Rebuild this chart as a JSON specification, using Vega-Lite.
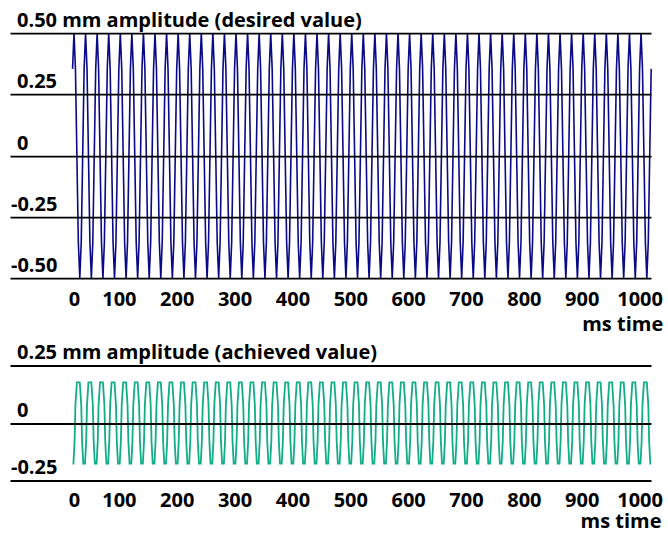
{
"$schema": "https://vega.github.io/schema/vega-lite/v6.json",
"padding": {"left": 10, "top": 10.1, "right": 0, "bottom": 0},
"bounds": "flush",
"spacing": 87.4,
"config": {"view": {"stroke": null}, "font": "Open Sans",
 "axis": {"labelFont": "Open Sans", "labelFontSize": 20, "labelFontWeight": "bold", "labelColor": "black", "labelLimit": 0, "titleFont": "Open Sans", "titleFontSize": 20, "titleFontWeight": "bold", "titleColor": "black", "domain": false, "ticks": false, "labelOverlap": false, "labelBound": false, "labelFlush": false}},
"datasets": {
"desired": [
{"t":20,"v":0.354},{"t":22.5,"v":0.5},{"t":25,"v":0.354},{"t":30,"v":-0.354},{"t":32.5,"v":-0.5},{"t":35,"v":-0.354},
{"t":40,"v":0.354},{"t":42.5,"v":0.5},{"t":45,"v":0.354},{"t":50,"v":-0.354},{"t":52.5,"v":-0.5},{"t":55,"v":-0.354},
{"t":60,"v":0.354},{"t":62.5,"v":0.5},{"t":65,"v":0.354},{"t":70,"v":-0.354},{"t":72.5,"v":-0.5},{"t":75,"v":-0.354},
{"t":80,"v":0.354},{"t":82.5,"v":0.5},{"t":85,"v":0.354},{"t":90,"v":-0.354},{"t":92.5,"v":-0.5},{"t":95,"v":-0.354},
{"t":100,"v":0.354},{"t":102.5,"v":0.5},{"t":105,"v":0.354},{"t":110,"v":-0.354},{"t":112.5,"v":-0.5},{"t":115,"v":-0.354},
{"t":120,"v":0.354},{"t":122.5,"v":0.5},{"t":125,"v":0.354},{"t":130,"v":-0.354},{"t":132.5,"v":-0.5},{"t":135,"v":-0.354},
{"t":140,"v":0.354},{"t":142.5,"v":0.5},{"t":145,"v":0.354},{"t":150,"v":-0.354},{"t":152.5,"v":-0.5},{"t":155,"v":-0.354},
{"t":160,"v":0.354},{"t":162.5,"v":0.5},{"t":165,"v":0.354},{"t":170,"v":-0.354},{"t":172.5,"v":-0.5},{"t":175,"v":-0.354},
{"t":180,"v":0.354},{"t":182.5,"v":0.5},{"t":185,"v":0.354},{"t":190,"v":-0.354},{"t":192.5,"v":-0.5},{"t":195,"v":-0.354},
{"t":200,"v":0.354},{"t":202.5,"v":0.5},{"t":205,"v":0.354},{"t":210,"v":-0.354},{"t":212.5,"v":-0.5},{"t":215,"v":-0.354},
{"t":220,"v":0.354},{"t":222.5,"v":0.5},{"t":225,"v":0.354},{"t":230,"v":-0.354},{"t":232.5,"v":-0.5},{"t":235,"v":-0.354},
{"t":240,"v":0.354},{"t":242.5,"v":0.5},{"t":245,"v":0.354},{"t":250,"v":-0.354},{"t":252.5,"v":-0.5},{"t":255,"v":-0.354},
{"t":260,"v":0.354},{"t":262.5,"v":0.5},{"t":265,"v":0.354},{"t":270,"v":-0.354},{"t":272.5,"v":-0.5},{"t":275,"v":-0.354},
{"t":280,"v":0.354},{"t":282.5,"v":0.5},{"t":285,"v":0.354},{"t":290,"v":-0.354},{"t":292.5,"v":-0.5},{"t":295,"v":-0.354},
{"t":300,"v":0.354},{"t":302.5,"v":0.5},{"t":305,"v":0.354},{"t":310,"v":-0.354},{"t":312.5,"v":-0.5},{"t":315,"v":-0.354},
{"t":320,"v":0.354},{"t":322.5,"v":0.5},{"t":325,"v":0.354},{"t":330,"v":-0.354},{"t":332.5,"v":-0.5},{"t":335,"v":-0.354},
{"t":340,"v":0.354},{"t":342.5,"v":0.5},{"t":345,"v":0.354},{"t":350,"v":-0.354},{"t":352.5,"v":-0.5},{"t":355,"v":-0.354},
{"t":360,"v":0.354},{"t":362.5,"v":0.5},{"t":365,"v":0.354},{"t":370,"v":-0.354},{"t":372.5,"v":-0.5},{"t":375,"v":-0.354},
{"t":380,"v":0.354},{"t":382.5,"v":0.5},{"t":385,"v":0.354},{"t":390,"v":-0.354},{"t":392.5,"v":-0.5},{"t":395,"v":-0.354},
{"t":400,"v":0.354},{"t":402.5,"v":0.5},{"t":405,"v":0.354},{"t":410,"v":-0.354},{"t":412.5,"v":-0.5},{"t":415,"v":-0.354},
{"t":420,"v":0.354},{"t":422.5,"v":0.5},{"t":425,"v":0.354},{"t":430,"v":-0.354},{"t":432.5,"v":-0.5},{"t":435,"v":-0.354},
{"t":440,"v":0.354},{"t":442.5,"v":0.5},{"t":445,"v":0.354},{"t":450,"v":-0.354},{"t":452.5,"v":-0.5},{"t":455,"v":-0.354},
{"t":460,"v":0.354},{"t":462.5,"v":0.5},{"t":465,"v":0.354},{"t":470,"v":-0.354},{"t":472.5,"v":-0.5},{"t":475,"v":-0.354},
{"t":480,"v":0.354},{"t":482.5,"v":0.5},{"t":485,"v":0.354},{"t":490,"v":-0.354},{"t":492.5,"v":-0.5},{"t":495,"v":-0.354},
{"t":500,"v":0.354},{"t":502.5,"v":0.5},{"t":505,"v":0.354},{"t":510,"v":-0.354},{"t":512.5,"v":-0.5},{"t":515,"v":-0.354},
{"t":520,"v":0.354},{"t":522.5,"v":0.5},{"t":525,"v":0.354},{"t":530,"v":-0.354},{"t":532.5,"v":-0.5},{"t":535,"v":-0.354},
{"t":540,"v":0.354},{"t":542.5,"v":0.5},{"t":545,"v":0.354},{"t":550,"v":-0.354},{"t":552.5,"v":-0.5},{"t":555,"v":-0.354},
{"t":560,"v":0.354},{"t":562.5,"v":0.5},{"t":565,"v":0.354},{"t":570,"v":-0.354},{"t":572.5,"v":-0.5},{"t":575,"v":-0.354},
{"t":580,"v":0.354},{"t":582.5,"v":0.5},{"t":585,"v":0.354},{"t":590,"v":-0.354},{"t":592.5,"v":-0.5},{"t":595,"v":-0.354},
{"t":600,"v":0.354},{"t":602.5,"v":0.5},{"t":605,"v":0.354},{"t":610,"v":-0.354},{"t":612.5,"v":-0.5},{"t":615,"v":-0.354},
{"t":620,"v":0.354},{"t":622.5,"v":0.5},{"t":625,"v":0.354},{"t":630,"v":-0.354},{"t":632.5,"v":-0.5},{"t":635,"v":-0.354},
{"t":640,"v":0.354},{"t":642.5,"v":0.5},{"t":645,"v":0.354},{"t":650,"v":-0.354},{"t":652.5,"v":-0.5},{"t":655,"v":-0.354},
{"t":660,"v":0.354},{"t":662.5,"v":0.5},{"t":665,"v":0.354},{"t":670,"v":-0.354},{"t":672.5,"v":-0.5},{"t":675,"v":-0.354},
{"t":680,"v":0.354},{"t":682.5,"v":0.5},{"t":685,"v":0.354},{"t":690,"v":-0.354},{"t":692.5,"v":-0.5},{"t":695,"v":-0.354},
{"t":700,"v":0.354},{"t":702.5,"v":0.5},{"t":705,"v":0.354},{"t":710,"v":-0.354},{"t":712.5,"v":-0.5},{"t":715,"v":-0.354},
{"t":720,"v":0.354},{"t":722.5,"v":0.5},{"t":725,"v":0.354},{"t":730,"v":-0.354},{"t":732.5,"v":-0.5},{"t":735,"v":-0.354},
{"t":740,"v":0.354},{"t":742.5,"v":0.5},{"t":745,"v":0.354},{"t":750,"v":-0.354},{"t":752.5,"v":-0.5},{"t":755,"v":-0.354},
{"t":760,"v":0.354},{"t":762.5,"v":0.5},{"t":765,"v":0.354},{"t":770,"v":-0.354},{"t":772.5,"v":-0.5},{"t":775,"v":-0.354},
{"t":780,"v":0.354},{"t":782.5,"v":0.5},{"t":785,"v":0.354},{"t":790,"v":-0.354},{"t":792.5,"v":-0.5},{"t":795,"v":-0.354},
{"t":800,"v":0.354},{"t":802.5,"v":0.5},{"t":805,"v":0.354},{"t":810,"v":-0.354},{"t":812.5,"v":-0.5},{"t":815,"v":-0.354},
{"t":820,"v":0.354},{"t":822.5,"v":0.5},{"t":825,"v":0.354},{"t":830,"v":-0.354},{"t":832.5,"v":-0.5},{"t":835,"v":-0.354},
{"t":840,"v":0.354},{"t":842.5,"v":0.5},{"t":845,"v":0.354},{"t":850,"v":-0.354},{"t":852.5,"v":-0.5},{"t":855,"v":-0.354},
{"t":860,"v":0.354},{"t":862.5,"v":0.5},{"t":865,"v":0.354},{"t":870,"v":-0.354},{"t":872.5,"v":-0.5},{"t":875,"v":-0.354},
{"t":880,"v":0.354},{"t":882.5,"v":0.5},{"t":885,"v":0.354},{"t":890,"v":-0.354},{"t":892.5,"v":-0.5},{"t":895,"v":-0.354},
{"t":900,"v":0.354},{"t":902.5,"v":0.5},{"t":905,"v":0.354},{"t":910,"v":-0.354},{"t":912.5,"v":-0.5},{"t":915,"v":-0.354},
{"t":920,"v":0.354},{"t":922.5,"v":0.5},{"t":925,"v":0.354},{"t":930,"v":-0.354},{"t":932.5,"v":-0.5},{"t":935,"v":-0.354},
{"t":940,"v":0.354},{"t":942.5,"v":0.5},{"t":945,"v":0.354},{"t":950,"v":-0.354},{"t":952.5,"v":-0.5},{"t":955,"v":-0.354},
{"t":960,"v":0.354},{"t":962.5,"v":0.5},{"t":965,"v":0.354},{"t":970,"v":-0.354},{"t":972.5,"v":-0.5},{"t":975,"v":-0.354},
{"t":980,"v":0.354},{"t":982.5,"v":0.5},{"t":985,"v":0.354},{"t":990,"v":-0.354},{"t":992.5,"v":-0.5},{"t":995,"v":-0.354},
{"t":1000,"v":0.354},{"t":1002.5,"v":0.5},{"t":1005,"v":0.354},{"t":1010,"v":-0.354},{"t":1012.5,"v":-0.5},{"t":1015,"v":-0.354},
{"t":1020,"v":0.354}
],
"achieved": [
{"t":20,"v":-0.177},
{"t":21.5,"v":-0.177},{"t":23.5,"v":-0.08},{"t":25,"v":0.08},{"t":27.5,"v":0.177},{"t":32.5,"v":0.177},{"t":35,"v":0.08},{"t":36.5,"v":-0.08},{"t":38.5,"v":-0.177},
{"t":41.5,"v":-0.177},{"t":43.5,"v":-0.08},{"t":45,"v":0.08},{"t":47.5,"v":0.177},{"t":52.5,"v":0.177},{"t":55,"v":0.08},{"t":56.5,"v":-0.08},{"t":58.5,"v":-0.177},
{"t":61.5,"v":-0.177},{"t":63.5,"v":-0.08},{"t":65,"v":0.08},{"t":67.5,"v":0.177},{"t":72.5,"v":0.177},{"t":75,"v":0.08},{"t":76.5,"v":-0.08},{"t":78.5,"v":-0.177},
{"t":81.5,"v":-0.177},{"t":83.5,"v":-0.08},{"t":85,"v":0.08},{"t":87.5,"v":0.177},{"t":92.5,"v":0.177},{"t":95,"v":0.08},{"t":96.5,"v":-0.08},{"t":98.5,"v":-0.177},
{"t":101.5,"v":-0.177},{"t":103.5,"v":-0.08},{"t":105,"v":0.08},{"t":107.5,"v":0.177},{"t":112.5,"v":0.177},{"t":115,"v":0.08},{"t":116.5,"v":-0.08},{"t":118.5,"v":-0.177},
{"t":121.5,"v":-0.177},{"t":123.5,"v":-0.08},{"t":125,"v":0.08},{"t":127.5,"v":0.177},{"t":132.5,"v":0.177},{"t":135,"v":0.08},{"t":136.5,"v":-0.08},{"t":138.5,"v":-0.177},
{"t":141.5,"v":-0.177},{"t":143.5,"v":-0.08},{"t":145,"v":0.08},{"t":147.5,"v":0.177},{"t":152.5,"v":0.177},{"t":155,"v":0.08},{"t":156.5,"v":-0.08},{"t":158.5,"v":-0.177},
{"t":161.5,"v":-0.177},{"t":163.5,"v":-0.08},{"t":165,"v":0.08},{"t":167.5,"v":0.177},{"t":172.5,"v":0.177},{"t":175,"v":0.08},{"t":176.5,"v":-0.08},{"t":178.5,"v":-0.177},
{"t":181.5,"v":-0.177},{"t":183.5,"v":-0.08},{"t":185,"v":0.08},{"t":187.5,"v":0.177},{"t":192.5,"v":0.177},{"t":195,"v":0.08},{"t":196.5,"v":-0.08},{"t":198.5,"v":-0.177},
{"t":201.5,"v":-0.177},{"t":203.5,"v":-0.08},{"t":205,"v":0.08},{"t":207.5,"v":0.177},{"t":212.5,"v":0.177},{"t":215,"v":0.08},{"t":216.5,"v":-0.08},{"t":218.5,"v":-0.177},
{"t":221.5,"v":-0.177},{"t":223.5,"v":-0.08},{"t":225,"v":0.08},{"t":227.5,"v":0.177},{"t":232.5,"v":0.177},{"t":235,"v":0.08},{"t":236.5,"v":-0.08},{"t":238.5,"v":-0.177},
{"t":241.5,"v":-0.177},{"t":243.5,"v":-0.08},{"t":245,"v":0.08},{"t":247.5,"v":0.177},{"t":252.5,"v":0.177},{"t":255,"v":0.08},{"t":256.5,"v":-0.08},{"t":258.5,"v":-0.177},
{"t":261.5,"v":-0.177},{"t":263.5,"v":-0.08},{"t":265,"v":0.08},{"t":267.5,"v":0.177},{"t":272.5,"v":0.177},{"t":275,"v":0.08},{"t":276.5,"v":-0.08},{"t":278.5,"v":-0.177},
{"t":281.5,"v":-0.177},{"t":283.5,"v":-0.08},{"t":285,"v":0.08},{"t":287.5,"v":0.177},{"t":292.5,"v":0.177},{"t":295,"v":0.08},{"t":296.5,"v":-0.08},{"t":298.5,"v":-0.177},
{"t":301.5,"v":-0.177},{"t":303.5,"v":-0.08},{"t":305,"v":0.08},{"t":307.5,"v":0.177},{"t":312.5,"v":0.177},{"t":315,"v":0.08},{"t":316.5,"v":-0.08},{"t":318.5,"v":-0.177},
{"t":321.5,"v":-0.177},{"t":323.5,"v":-0.08},{"t":325,"v":0.08},{"t":327.5,"v":0.177},{"t":332.5,"v":0.177},{"t":335,"v":0.08},{"t":336.5,"v":-0.08},{"t":338.5,"v":-0.177},
{"t":341.5,"v":-0.177},{"t":343.5,"v":-0.08},{"t":345,"v":0.08},{"t":347.5,"v":0.177},{"t":352.5,"v":0.177},{"t":355,"v":0.08},{"t":356.5,"v":-0.08},{"t":358.5,"v":-0.177},
{"t":361.5,"v":-0.177},{"t":363.5,"v":-0.08},{"t":365,"v":0.08},{"t":367.5,"v":0.177},{"t":372.5,"v":0.177},{"t":375,"v":0.08},{"t":376.5,"v":-0.08},{"t":378.5,"v":-0.177},
{"t":381.5,"v":-0.177},{"t":383.5,"v":-0.08},{"t":385,"v":0.08},{"t":387.5,"v":0.177},{"t":392.5,"v":0.177},{"t":395,"v":0.08},{"t":396.5,"v":-0.08},{"t":398.5,"v":-0.177},
{"t":401.5,"v":-0.177},{"t":403.5,"v":-0.08},{"t":405,"v":0.08},{"t":407.5,"v":0.177},{"t":412.5,"v":0.177},{"t":415,"v":0.08},{"t":416.5,"v":-0.08},{"t":418.5,"v":-0.177},
{"t":421.5,"v":-0.177},{"t":423.5,"v":-0.08},{"t":425,"v":0.08},{"t":427.5,"v":0.177},{"t":432.5,"v":0.177},{"t":435,"v":0.08},{"t":436.5,"v":-0.08},{"t":438.5,"v":-0.177},
{"t":441.5,"v":-0.177},{"t":443.5,"v":-0.08},{"t":445,"v":0.08},{"t":447.5,"v":0.177},{"t":452.5,"v":0.177},{"t":455,"v":0.08},{"t":456.5,"v":-0.08},{"t":458.5,"v":-0.177},
{"t":461.5,"v":-0.177},{"t":463.5,"v":-0.08},{"t":465,"v":0.08},{"t":467.5,"v":0.177},{"t":472.5,"v":0.177},{"t":475,"v":0.08},{"t":476.5,"v":-0.08},{"t":478.5,"v":-0.177},
{"t":481.5,"v":-0.177},{"t":483.5,"v":-0.08},{"t":485,"v":0.08},{"t":487.5,"v":0.177},{"t":492.5,"v":0.177},{"t":495,"v":0.08},{"t":496.5,"v":-0.08},{"t":498.5,"v":-0.177},
{"t":501.5,"v":-0.177},{"t":503.5,"v":-0.08},{"t":505,"v":0.08},{"t":507.5,"v":0.177},{"t":512.5,"v":0.177},{"t":515,"v":0.08},{"t":516.5,"v":-0.08},{"t":518.5,"v":-0.177},
{"t":521.5,"v":-0.177},{"t":523.5,"v":-0.08},{"t":525,"v":0.08},{"t":527.5,"v":0.177},{"t":532.5,"v":0.177},{"t":535,"v":0.08},{"t":536.5,"v":-0.08},{"t":538.5,"v":-0.177},
{"t":541.5,"v":-0.177},{"t":543.5,"v":-0.08},{"t":545,"v":0.08},{"t":547.5,"v":0.177},{"t":552.5,"v":0.177},{"t":555,"v":0.08},{"t":556.5,"v":-0.08},{"t":558.5,"v":-0.177},
{"t":561.5,"v":-0.177},{"t":563.5,"v":-0.08},{"t":565,"v":0.08},{"t":567.5,"v":0.177},{"t":572.5,"v":0.177},{"t":575,"v":0.08},{"t":576.5,"v":-0.08},{"t":578.5,"v":-0.177},
{"t":581.5,"v":-0.177},{"t":583.5,"v":-0.08},{"t":585,"v":0.08},{"t":587.5,"v":0.177},{"t":592.5,"v":0.177},{"t":595,"v":0.08},{"t":596.5,"v":-0.08},{"t":598.5,"v":-0.177},
{"t":601.5,"v":-0.177},{"t":603.5,"v":-0.08},{"t":605,"v":0.08},{"t":607.5,"v":0.177},{"t":612.5,"v":0.177},{"t":615,"v":0.08},{"t":616.5,"v":-0.08},{"t":618.5,"v":-0.177},
{"t":621.5,"v":-0.177},{"t":623.5,"v":-0.08},{"t":625,"v":0.08},{"t":627.5,"v":0.177},{"t":632.5,"v":0.177},{"t":635,"v":0.08},{"t":636.5,"v":-0.08},{"t":638.5,"v":-0.177},
{"t":641.5,"v":-0.177},{"t":643.5,"v":-0.08},{"t":645,"v":0.08},{"t":647.5,"v":0.177},{"t":652.5,"v":0.177},{"t":655,"v":0.08},{"t":656.5,"v":-0.08},{"t":658.5,"v":-0.177},
{"t":661.5,"v":-0.177},{"t":663.5,"v":-0.08},{"t":665,"v":0.08},{"t":667.5,"v":0.177},{"t":672.5,"v":0.177},{"t":675,"v":0.08},{"t":676.5,"v":-0.08},{"t":678.5,"v":-0.177},
{"t":681.5,"v":-0.177},{"t":683.5,"v":-0.08},{"t":685,"v":0.08},{"t":687.5,"v":0.177},{"t":692.5,"v":0.177},{"t":695,"v":0.08},{"t":696.5,"v":-0.08},{"t":698.5,"v":-0.177},
{"t":701.5,"v":-0.177},{"t":703.5,"v":-0.08},{"t":705,"v":0.08},{"t":707.5,"v":0.177},{"t":712.5,"v":0.177},{"t":715,"v":0.08},{"t":716.5,"v":-0.08},{"t":718.5,"v":-0.177},
{"t":721.5,"v":-0.177},{"t":723.5,"v":-0.08},{"t":725,"v":0.08},{"t":727.5,"v":0.177},{"t":732.5,"v":0.177},{"t":735,"v":0.08},{"t":736.5,"v":-0.08},{"t":738.5,"v":-0.177},
{"t":741.5,"v":-0.177},{"t":743.5,"v":-0.08},{"t":745,"v":0.08},{"t":747.5,"v":0.177},{"t":752.5,"v":0.177},{"t":755,"v":0.08},{"t":756.5,"v":-0.08},{"t":758.5,"v":-0.177},
{"t":761.5,"v":-0.177},{"t":763.5,"v":-0.08},{"t":765,"v":0.08},{"t":767.5,"v":0.177},{"t":772.5,"v":0.177},{"t":775,"v":0.08},{"t":776.5,"v":-0.08},{"t":778.5,"v":-0.177},
{"t":781.5,"v":-0.177},{"t":783.5,"v":-0.08},{"t":785,"v":0.08},{"t":787.5,"v":0.177},{"t":792.5,"v":0.177},{"t":795,"v":0.08},{"t":796.5,"v":-0.08},{"t":798.5,"v":-0.177},
{"t":801.5,"v":-0.177},{"t":803.5,"v":-0.08},{"t":805,"v":0.08},{"t":807.5,"v":0.177},{"t":812.5,"v":0.177},{"t":815,"v":0.08},{"t":816.5,"v":-0.08},{"t":818.5,"v":-0.177},
{"t":821.5,"v":-0.177},{"t":823.5,"v":-0.08},{"t":825,"v":0.08},{"t":827.5,"v":0.177},{"t":832.5,"v":0.177},{"t":835,"v":0.08},{"t":836.5,"v":-0.08},{"t":838.5,"v":-0.177},
{"t":841.5,"v":-0.177},{"t":843.5,"v":-0.08},{"t":845,"v":0.08},{"t":847.5,"v":0.177},{"t":852.5,"v":0.177},{"t":855,"v":0.08},{"t":856.5,"v":-0.08},{"t":858.5,"v":-0.177},
{"t":861.5,"v":-0.177},{"t":863.5,"v":-0.08},{"t":865,"v":0.08},{"t":867.5,"v":0.177},{"t":872.5,"v":0.177},{"t":875,"v":0.08},{"t":876.5,"v":-0.08},{"t":878.5,"v":-0.177},
{"t":881.5,"v":-0.177},{"t":883.5,"v":-0.08},{"t":885,"v":0.08},{"t":887.5,"v":0.177},{"t":892.5,"v":0.177},{"t":895,"v":0.08},{"t":896.5,"v":-0.08},{"t":898.5,"v":-0.177},
{"t":901.5,"v":-0.177},{"t":903.5,"v":-0.08},{"t":905,"v":0.08},{"t":907.5,"v":0.177},{"t":912.5,"v":0.177},{"t":915,"v":0.08},{"t":916.5,"v":-0.08},{"t":918.5,"v":-0.177},
{"t":921.5,"v":-0.177},{"t":923.5,"v":-0.08},{"t":925,"v":0.08},{"t":927.5,"v":0.177},{"t":932.5,"v":0.177},{"t":935,"v":0.08},{"t":936.5,"v":-0.08},{"t":938.5,"v":-0.177},
{"t":941.5,"v":-0.177},{"t":943.5,"v":-0.08},{"t":945,"v":0.08},{"t":947.5,"v":0.177},{"t":952.5,"v":0.177},{"t":955,"v":0.08},{"t":956.5,"v":-0.08},{"t":958.5,"v":-0.177},
{"t":961.5,"v":-0.177},{"t":963.5,"v":-0.08},{"t":965,"v":0.08},{"t":967.5,"v":0.177},{"t":972.5,"v":0.177},{"t":975,"v":0.08},{"t":976.5,"v":-0.08},{"t":978.5,"v":-0.177},
{"t":981.5,"v":-0.177},{"t":983.5,"v":-0.08},{"t":985,"v":0.08},{"t":987.5,"v":0.177},{"t":992.5,"v":0.177},{"t":995,"v":0.08},{"t":996.5,"v":-0.08},{"t":998.5,"v":-0.177},
{"t":1001.5,"v":-0.177},{"t":1003.5,"v":-0.08},{"t":1005,"v":0.08},{"t":1007.5,"v":0.177},{"t":1012.5,"v":0.177},{"t":1015,"v":0.08},{"t":1016.5,"v":-0.08},{"t":1018.5,"v":-0.177},
{"t":1020,"v":-0.177}
]
},
"vconcat": [
{
 "width": 641, "height": 245,
 "data": {"name": "desired"},
 "mark": {"type": "line", "color": "#0a0a88", "strokeWidth": 1.6},
 "encoding": {
  "x": {"field": "t", "type": "quantitative", "scale": {"domain": [-88.1, 1019.7], "nice": false, "zero": false},
   "axis": {"values": [0,100,200,300,400,500,600,700,800,900,1000], "format": "d", "grid": false, "labelAlign": "center", "labelBaseline": "top", "labelPadding": 11,
    "labelOffset": {"condition": {"test": "datum.value == 0", "value": 13}, "value": 0},
    "title": "ms time", "titleAlign": "right", "titleAnchor": "end", "titleX": 652.7, "titleY": 52, "titleBaseline": "alphabetic"}},
  "y": {"field": "v", "type": "quantitative", "scale": {"domain": [-0.5, 0.5], "nice": false, "zero": false},
   "axis": {"values": [-0.5, -0.25, 0, 0.25, 0.5], "grid": true, "gridColor": "black", "gridWidth": 1.8, "zindex": 1,
    "labelAlign": "left", "labelBaseline": "alphabetic", "labelOffset": -6.5,
    "labelPadding": {"condition": {"test": "datum.value < 0", "value": -0.5}, "value": -6.5},
    "labelExpr": "datum.value == 0.5 ? '0.50 mm amplitude (desired value)' : datum.value == 0.25 ? '0.25' : datum.value == 0 ? '0' : datum.value == -0.25 ? '-0.25' : '-0.50'",
    "title": null}}
 }
},
{
 "width": 641, "height": 115,
 "data": {"name": "achieved"},
 "mark": {"type": "line", "color": "#10ad87", "strokeWidth": 1.8},
 "encoding": {
  "x": {"field": "t", "type": "quantitative", "scale": {"domain": [-88.1, 1019.7], "nice": false, "zero": false},
   "axis": {"values": [0,100,200,300,400,500,600,700,800,900,1000], "format": "d", "grid": false, "labelAlign": "center", "labelBaseline": "top", "labelPadding": 10.5,
    "labelOffset": {"condition": {"test": "datum.value == 0", "value": 13}, "value": 0},
    "title": "ms time", "titleAlign": "right", "titleAnchor": "end", "titleX": 651, "titleY": 47, "titleBaseline": "alphabetic"}},
  "y": {"field": "v", "type": "quantitative", "scale": {"domain": [-0.25, 0.25], "nice": false, "zero": false},
   "axis": {"values": [-0.25, 0, 0.25], "grid": true, "gridColor": "black", "gridWidth": 1.8, "zindex": 1,
    "labelAlign": "left", "labelBaseline": "alphabetic", "labelOffset": -6.5,
    "labelPadding": {"condition": {"test": "datum.value < 0", "value": -0.5}, "value": -6.5},
    "labelExpr": "datum.value == 0.25 ? '0.25 mm amplitude (achieved value)' : datum.value == 0 ? '0' : '-0.25'",
    "title": null}}
 }
}
]
}
